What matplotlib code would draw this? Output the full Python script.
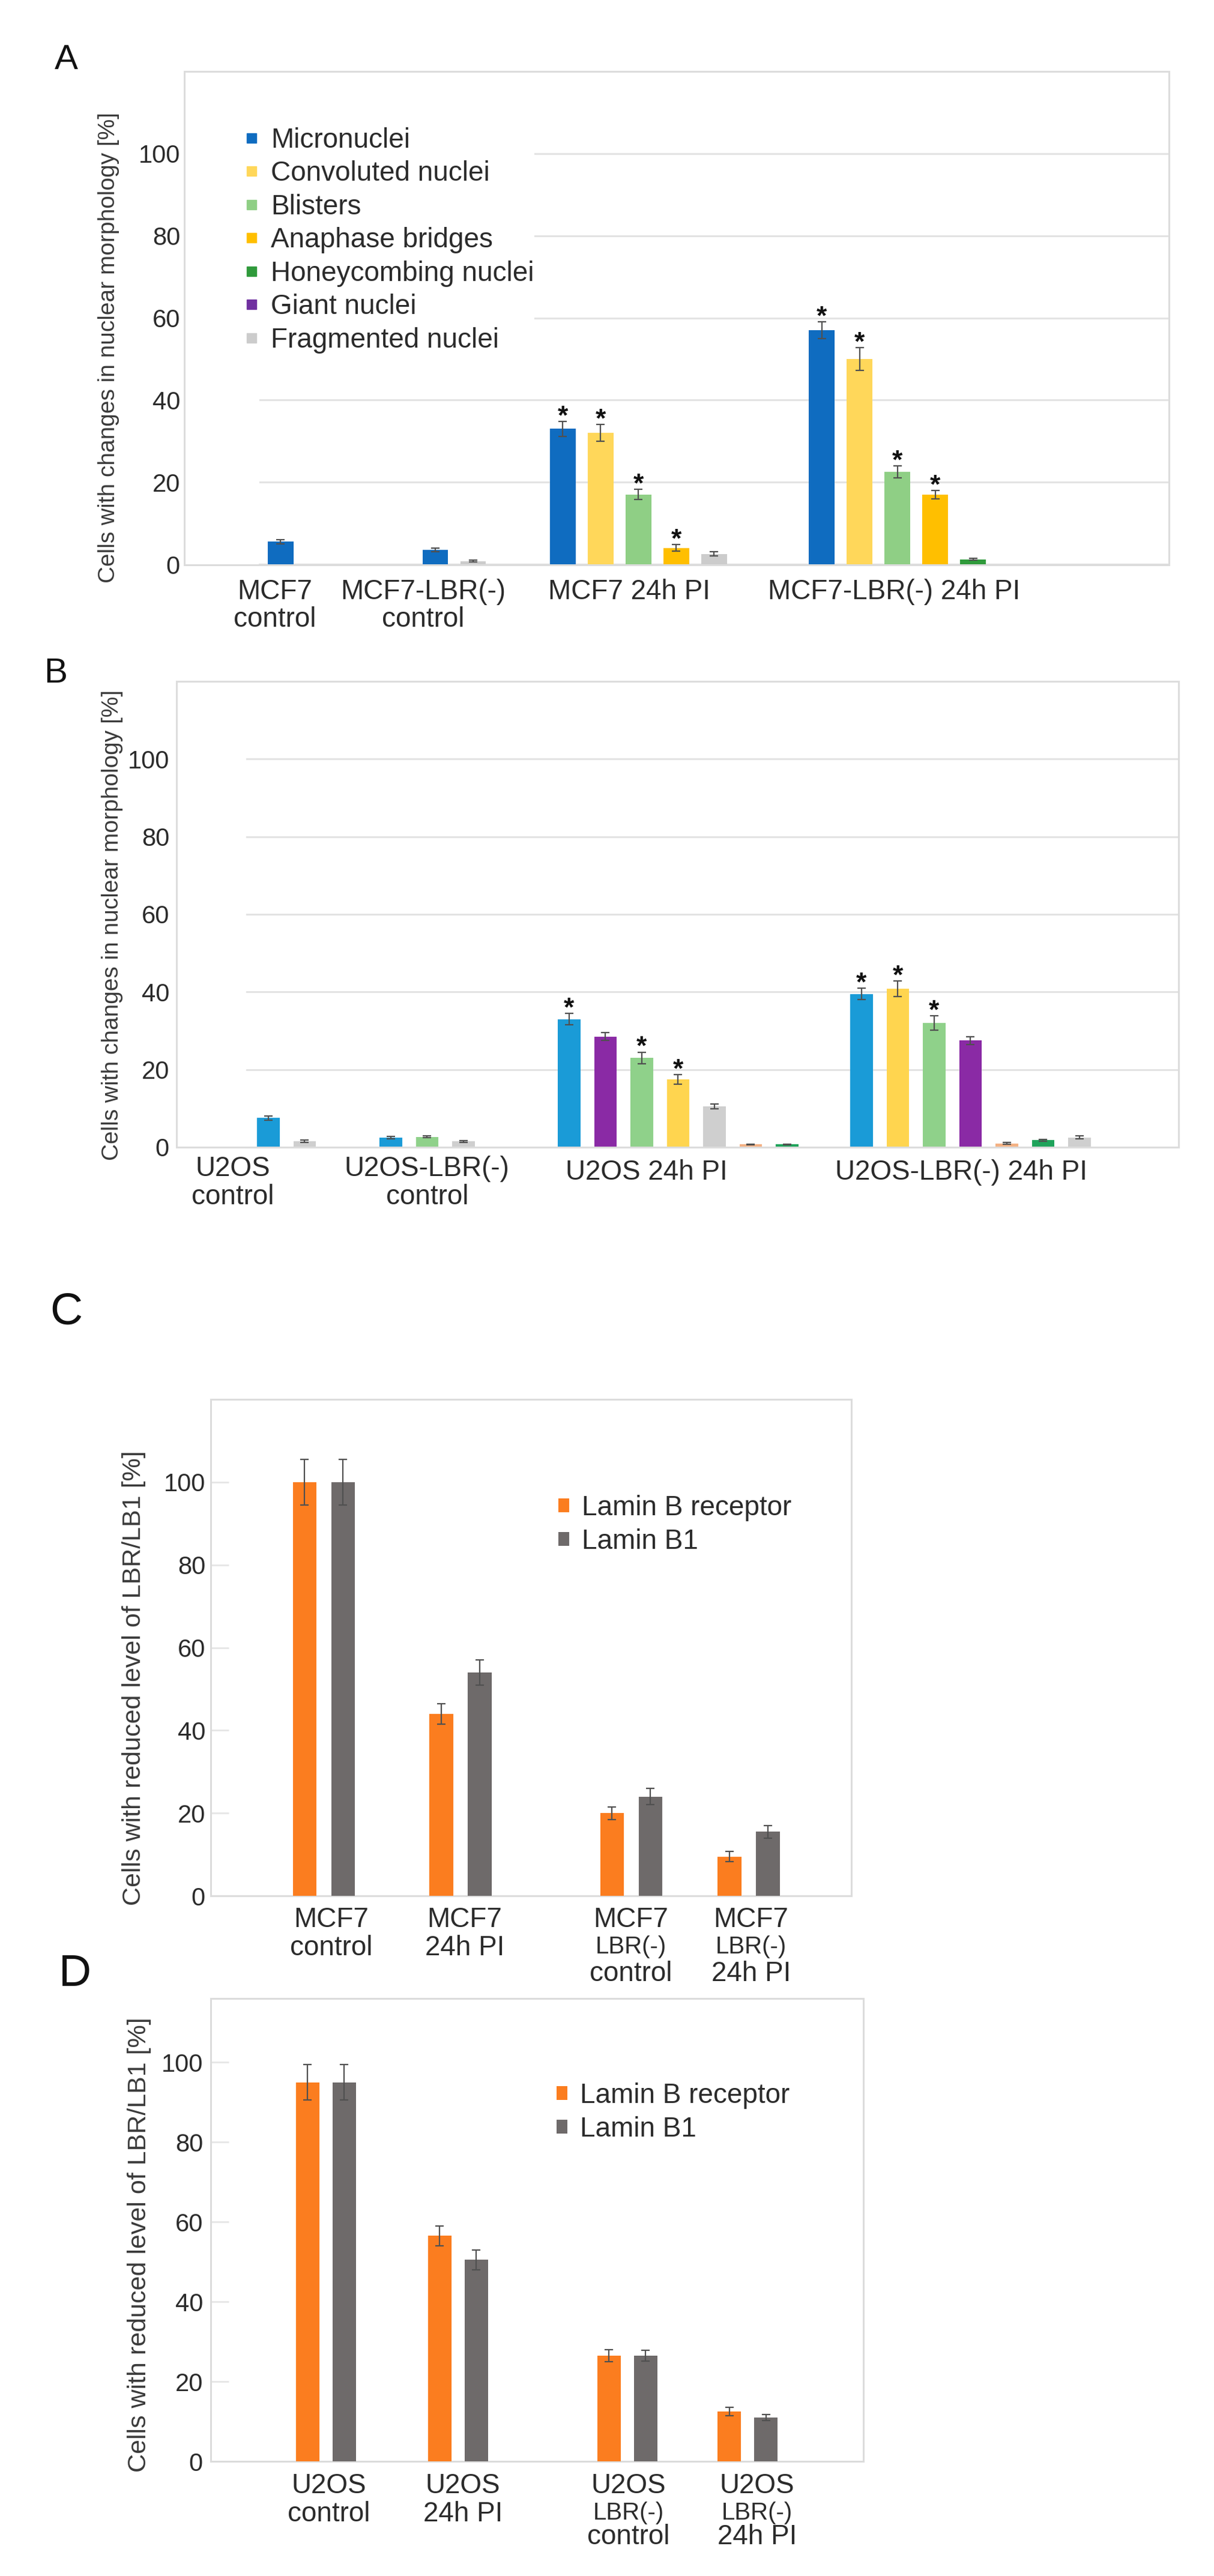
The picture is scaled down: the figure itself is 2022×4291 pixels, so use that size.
import matplotlib
matplotlib.use("Agg")
import matplotlib.pyplot as plt
from matplotlib.lines import Line2D
from matplotlib.patches import Rectangle

plt.rcParams['font.family'] = ['Liberation Sans', 'DejaVu Sans']

W, H = 2022, 4291
DPI = 100
PT = DPI / 72.0  # pixels per point

# ---------------- data: panel A (MCF7 nuclear morphology) ----------------
A_series = ["Micronuclei", "Convoluted nuclei", "Blisters", "Anaphase bridges",
            "Honeycombing nuclei", "Giant nuclei", "Fragmented nuclei"]
A_categories = [["MCF7", "control"], ["MCF7-LBR(-)", "control"],
                ["MCF7 24h PI"], ["MCF7-LBR(-) 24h PI"]]
A_bar_cat = [0, 1, 1, 2, 2, 2, 2, 2, 3, 3, 3, 3, 3]
A_bar_series = ["Micronuclei", "Micronuclei", "Fragmented nuclei",
                "Micronuclei", "Convoluted nuclei", "Blisters", "Anaphase bridges", "Fragmented nuclei",
                "Micronuclei", "Convoluted nuclei", "Blisters", "Anaphase bridges", "Honeycombing nuclei"]
A_bar_val = [5.5, 3.5, 0.8, 33, 32, 17, 4, 2.5, 57, 50, 22.5, 17, 1.2]
A_bar_err = [0.5, 0.4, 0.2, 1.8, 2.0, 1.2, 0.8, 0.5, 2.0, 2.8, 1.4, 1.0, 0.2]
A_bar_star = [0, 0, 0, 1, 1, 1, 1, 0, 1, 1, 1, 1, 0]

# ---------------- data: panel B (U2OS nuclear morphology) ----------------
B_categories = [["U2OS", "control"], ["U2OS-LBR(-)", "control"],
                ["U2OS 24h PI"], ["U2OS-LBR(-) 24h PI"]]
B_bar_cat = [0, 0, 1, 1, 1, 2, 2, 2, 2, 2, 2, 2, 3, 3, 3, 3, 3, 3, 3]
B_bar_series = ["Micronuclei", "Fragmented nuclei",
                "Micronuclei", "Blisters", "Fragmented nuclei",
                "Micronuclei", "Giant nuclei", "Blisters", "Convoluted nuclei", "Fragmented nuclei",
                "Anaphase bridges", "Honeycombing nuclei",
                "Micronuclei", "Convoluted nuclei", "Blisters", "Giant nuclei",
                "Anaphase bridges", "Honeycombing nuclei", "Fragmented nuclei"]
B_bar_val = [7.5, 1.5, 2.5, 2.7, 1.5, 33, 28.5, 23, 17.5, 10.5, 0.7, 0.7,
             39.5, 40.8, 32, 27.5, 1.0, 1.8, 2.5]
B_bar_err = [0.6, 0.3, 0.3, 0.3, 0.2, 1.5, 1.0, 1.5, 1.2, 0.6, 0.1, 0.1,
             1.5, 2.0, 1.8, 1.0, 0.2, 0.2, 0.4]
B_bar_star = [0, 0, 0, 0, 0, 1, 0, 1, 1, 0, 0, 0, 1, 1, 1, 0, 0, 0, 0]

# ---------------- data: panels C and D (LBR / LB1 levels) ----------------
LB_series = ["Lamin B receptor", "Lamin B1"]
C_categories = [["MCF7", "control"], ["MCF7", "24h PI"],
                ["MCF7", "LBR(-)", "control"], ["MCF7", "LBR(-)", "24h PI"]]
C_lbr = [100, 44, 20, 9.5]
C_lbr_err = [5.5, 2.5, 1.5, 1.2]
C_lb1 = [100, 54, 24, 15.5]
C_lb1_err = [5.5, 3.0, 2.0, 1.5]

D_categories = [["U2OS", "control"], ["U2OS", "24h PI"],
                ["U2OS", "LBR(-)", "control"], ["U2OS", "LBR(-)", "24h PI"]]
D_lbr = [95, 56.5, 26.5, 12.5]
D_lbr_err = [4.5, 2.5, 1.5, 1.0]
D_lb1 = [95, 50.5, 26.5, 11]
D_lb1_err = [4.5, 2.5, 1.3, 0.7]

# ---------------- styles ----------------
A_colors = {"Micronuclei": "#0f6cc0", "Convoluted nuclei": "#ffd75a", "Blisters": "#8fcf85",
            "Anaphase bridges": "#ffbf00", "Honeycombing nuclei": "#2f9a3b",
            "Giant nuclei": "#7030a0", "Fragmented nuclei": "#cccccc"}
B_colors = {"Micronuclei": "#1a9bd7", "Convoluted nuclei": "#ffd54f", "Blisters": "#8fd18a",
            "Anaphase bridges": "#f4b183", "Honeycombing nuclei": "#1ea35a",
            "Giant nuclei": "#8a2aa5", "Fragmented nuclei": "#cfcfcf"}
LB_colors = ["#fb7d1f", "#6e6a6a"]
FRAME = "#dcdcdc"
TXT = "#2b2b2b"
ERR = "#505050"

fig = plt.figure(figsize=(W / DPI, H / DPI), dpi=DPI)
fig.patch.set_facecolor("white")


def axes_px(left, top, right, bottom):
    return fig.add_axes([left / W, 1 - bottom / H, (right - left) / W, (bottom - top) / H])


def cat_labels(ax, xs, labels, offsets, size, small=None):
    # each label line is placed separately so the LBR(-) line can be smaller
    for x, lines in zip(xs, labels):
        for j, line in enumerate(lines):
            fs = small if (small and line == "LBR(-)") else size
            ax.annotate(line, (x, 0), xycoords=("data", "axes fraction"),
                        xytext=(0, -offsets[len(lines) - 1][j] / PT), textcoords="offset points",
                        ha="center", va="center", fontsize=fs, color=TXT, annotation_clip=False)


def morphology_panel(ax, cats, series, vals, errs, stars, colors, starts, width):
    slot = {}
    for c, s, v, e, st in zip(cats, series, vals, errs, stars):
        k = slot.get(c, 0)
        slot[c] = k + 1
        x = starts[c] + k
        ax.bar(x, v, width=width, color=colors[s], zorder=3)
        ax.errorbar(x, v, yerr=e, fmt="none", ecolor=ERR, elinewidth=1.6,
                    capsize=5, capthick=1.6, zorder=4)
        if st:
            ax.annotate("*", (x, v + e), xytext=(0, -3), textcoords="offset points",
                        ha="center", va="baseline", fontsize=32, fontweight="bold",
                        color="#111111", zorder=5)
    ax.set_ylim(0, 120)
    ax.set_yticks([0, 20, 40, 60, 80, 100])
    for y in [20, 40, 60, 80, 100]:
        ax.axhline(y, color="#e3e3e3", lw=2.2, zorder=0)
    for sp in ["top", "right", "left"]:
        ax.spines[sp].set_visible(False)
    ax.spines["bottom"].set_color(FRAME)
    ax.spines["bottom"].set_linewidth(2.2)
    ax.set_xticks([])


def lamin_panel(ax, lbr, lbr_err, lb1, lb1_err, starts, width, ytop):
    xs0 = [s for s in starts]
    xs1 = [s + 1 for s in starts]
    ax.bar(xs0, lbr, width=width, color=LB_colors[0], zorder=3, label=LB_series[0])
    ax.bar(xs1, lb1, width=width, color=LB_colors[1], zorder=3, label=LB_series[1])
    ax.errorbar(xs0, lbr, yerr=lbr_err, fmt="none", ecolor=ERR, elinewidth=1.6,
                capsize=5, capthick=1.6, zorder=4)
    ax.errorbar(xs1, lb1, yerr=lb1_err, fmt="none", ecolor=ERR, elinewidth=1.6,
                capsize=5, capthick=1.6, zorder=4)
    ax.set_ylim(0, ytop)
    ax.set_yticks([0, 20, 40, 60, 80, 100])
    for sp in ax.spines.values():
        sp.set_color(FRAME)
        sp.set_linewidth(2.2)
    ax.set_xticks([])


# ================= panel A =================
axA = axes_px(432, 119, 1947, 940)
axA.set_xlim(0, (1947 - 432) / 63.0)
morphology_panel(axA, A_bar_cat, A_bar_series, A_bar_val, A_bar_err, A_bar_star,
                 A_colors, [0.56, 4.65, 8.02, 14.87], 0.68)
axA.tick_params(axis="y", length=0, pad=(432 - 300) / PT, labelsize=30, labelcolor=TXT)
axA.text(-0.166, 0.44, "Cells with changes in nuclear morphology [%]", transform=axA.transAxes,
         rotation=90, ha="center", va="center", fontsize=28, color="#3a3a3a")
cat_labels(axA, [0.41, 4.33, 9.78, 16.78], A_categories,
           {0: [46], 1: [46, 92]}, 33)
handles = [Line2D([], [], marker="s", ls="", color=A_colors[s], markersize=11) for s in A_series]
legA = axA.legend(handles, A_series, loc="upper left", bbox_to_anchor=(410 / W, 1 - 212 / H),
                  bbox_transform=fig.transFigure, frameon=True, facecolor="white", edgecolor="none",
                  framealpha=1, borderpad=0, borderaxespad=0, handlelength=0.4, handletextpad=0.5,
                  labelspacing=0.25, fontsize=33)
for t in legA.get_texts():
    t.set_color(TXT)
legA.set_zorder(6)
fig.add_artist(Rectangle((307 / W, 1 - 941 / H), (1947 - 307) / W, (941 - 119) / H,
                         transform=fig.transFigure, fill=False, ec=FRAME, lw=2.2))
fig.text(110 / W, 1 - 100 / H, "A", fontsize=42, ha="center", va="center", color="#111111")

# ================= panel B =================
axB = axes_px(410, 1135, 1963, 1911)
axB.set_xlim(0, (1963 - 410) / 60.5)
morphology_panel(axB, B_bar_cat, B_bar_series, B_bar_val, B_bar_err, B_bar_star,
                 B_colors, [0.61, 3.98, 8.89, 16.94], 0.62)
axB.tick_params(axis="y", length=0, pad=(410 - 282) / PT, labelsize=30, labelcolor=TXT)
axB.text(-0.1436, 0.477, "Cells with changes in nuclear morphology [%]", transform=axB.transAxes,
         rotation=90, ha="center", va="center", fontsize=28, color="#3a3a3a")
cat_labels(axB, [-0.36, 4.98, 11.02, 19.69], B_categories,
           {0: [42], 1: [36, 83]}, 33)
fig.add_artist(Rectangle((294 / W, 1 - 1911 / H), (1963 - 294) / W, (1911 - 1135) / H,
                         transform=fig.transFigure, fill=False, ec=FRAME, lw=2.2))
fig.text(93 / W, 1 - 1122 / H, "B", fontsize=42, ha="center", va="center", color="#111111")

# ================= panel C =================
axC = axes_px(351, 2331, 1418, 3158)
axC.set_xlim(0, (1418 - 351) / 64.0)
lamin_panel(axC, C_lbr, C_lbr_err, C_lb1, C_lb1_err, [2.44, 6.0, 10.44, 13.5], 0.61, 120)
axC.tick_params(axis="y", direction="in", length=30 / PT, width=2, color="#e6e6e6",
                pad=9 / PT, labelsize=30, labelcolor=TXT)
axC.text(-0.12, 0.439, "Cells with reduced level of LBR/LB1 [%]", transform=axC.transAxes,
         rotation=90, ha="center", va="center", fontsize=31, color="#3a3a3a")
cat_labels(axC, [3.14, 6.61, 10.94, 14.06], C_categories,
           {1: [40, 87], 2: [40, 85, 130]}, 33, small=29)
legC = axC.legend(loc="upper left", bbox_to_anchor=(930 / W, 1 - 2490 / H),
                  bbox_transform=fig.transFigure, frameon=False, borderpad=0, borderaxespad=0,
                  handlelength=0.4, handleheight=0.4, handletextpad=0.45, labelspacing=0.26,
                  fontsize=33)
for t in legC.get_texts():
    t.set_color(TXT)
fig.text(110 / W, 1 - 2186 / H, "C", fontsize=54, ha="center", va="center", color="#111111")

# ================= panel D =================
axD = axes_px(351, 3329, 1438, 4100)
axD.set_xlim(0, (1438 - 351) / 61.0)
lamin_panel(axD, D_lbr, D_lbr_err, D_lb1, D_lb1_err, [2.64, 6.25, 10.87, 14.16], 0.64, 116)
axD.tick_params(axis="y", direction="in", length=30 / PT, width=2, color="#e6e6e6",
                pad=13 / PT, labelsize=30, labelcolor=TXT)
axD.text(-0.1095, 0.468, "Cells with reduced level of LBR/LB1 [%]", transform=axD.transAxes,
         rotation=90, ha="center", va="center", fontsize=31, color="#3a3a3a")
cat_labels(axD, [3.23, 6.89, 11.41, 14.92], D_categories,
           {1: [41, 88], 2: [41, 86, 126]}, 33, small=29)
legD = axD.legend(loc="upper left", bbox_to_anchor=(927 / W, 1 - 3469 / H),
                  bbox_transform=fig.transFigure, frameon=False, borderpad=0, borderaxespad=0,
                  handlelength=0.4, handleheight=0.4, handletextpad=0.45, labelspacing=0.26,
                  fontsize=33)
for t in legD.get_texts():
    t.set_color(TXT)
fig.text(125 / W, 1 - 3288 / H, "D", fontsize=54, ha="center", va="center", color="#111111")

fig.savefig("out.png", dpi=DPI, facecolor="white")
